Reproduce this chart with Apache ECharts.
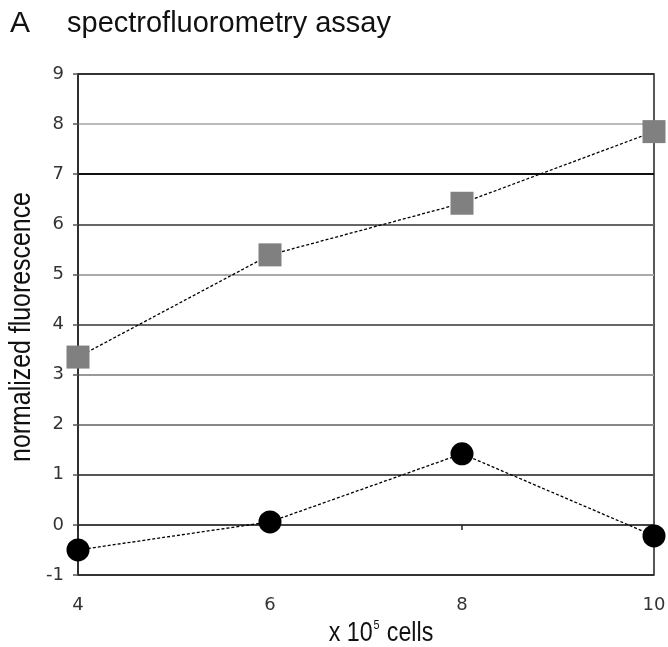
<!DOCTYPE html>
<html>
<head>
<meta charset="utf-8">
<script src="https://cdn.jsdelivr.net/npm/echarts@6/dist/echarts.min.js"></script>
<style>
html,body{margin:0;padding:0;background:#fff;}
#chart{width:668px;height:647px;}
</style>
</head>
<body>
<div id="chart"></div>
<script>
// Data
const cells = [4, 6, 8, 10];
const squareSeries = [3.35, 5.39, 6.42, 7.85];
const circleSeries = [-0.5, 0.06, 1.42, -0.22];
const yTicks = [-1, 0, 1, 2, 3, 4, 5, 6, 7, 8, 9];
const titleLetter = 'A';
const titleText = 'spectrofluorometry assay';
const yName = 'normalized fluorescence';
const xName = 'x 10{sup|5} cells';

const chart = echarts.init(document.getElementById('chart'), null, {renderer: 'canvas'});

const lineColors = ['#333', '#aaa', '#555', '#888', '#999', '#666', '#aaa', '#666', '#111', '#bbb', '#333'];
const sans = '"Liberation Sans", Arial, sans-serif';

const option = {
  backgroundColor: '#fff',
  animation: false,
  grid: {
    left: 78, right: 14, top: 74, bottom: 72,
    containLabel: false, outerBoundsMode: 'none',
    show: true, borderColor: '#222', borderWidth: 1.5
  },
  graphic: [
    {type: 'text', left: 10, top: 9, style: {text: titleLetter, font: '30px ' + sans, fill: '#111'}},
    {type: 'text', left: 67, top: 9, style: {text: titleText, font: '29px ' + sans, fill: '#111'}},
    {type: 'text', x: 22, y: 327, rotation: Math.PI / 2, scaleX: 0.83,
     style: {text: yName, font: '30px ' + sans, fill: '#111', align: 'center', verticalAlign: 'middle'}},
    {type: 'text', x: 381, y: 633, scaleX: 0.83,
     style: {text: xName, font: '28px ' + sans, fill: '#111', align: 'center', verticalAlign: 'middle',
       rich: {sup: {fontSize: 13, fontFamily: sans, fill: '#111', verticalAlign: 'top', padding: [0, 1, 14, 1]}}}}
  ],
  xAxis: {
    type: 'value', min: cells[0], max: cells[cells.length - 1], interval: 2,
    axisLine: {show: true, lineStyle: {color: '#222', width: 1.5}},
    axisTick: {show: true, length: 5, lineStyle: {color: '#222', width: 1.5}},
    axisLabel: {margin: 21, fontFamily: '"DejaVu Sans", sans-serif', fontSize: 18, color: '#333'},
    splitLine: {show: false}
  },
  yAxis: {
    type: 'value', min: yTicks[0], max: yTicks[yTicks.length - 1], interval: 1,
    axisLine: {show: true, lineStyle: {color: '#222', width: 1.5}},
    axisTick: {show: true, length: 5, lineStyle: {color: '#555', width: 1.5}},
    axisLabel: {margin: 14, fontFamily: '"DejaVu Sans", sans-serif', fontSize: 18, color: '#333'},
    splitLine: {show: true, lineStyle: {color: lineColors, width: 2}}
  },
  series: [
    {
      type: 'line',
      data: cells.map((x, i) => [x, squareSeries[i]]),
      symbol: 'rect', symbolSize: 23,
      itemStyle: {color: '#808080'},
      lineStyle: {color: '#000', width: 1.3, type: [3, 2]},
      z: 3
    },
    {
      type: 'line',
      data: cells.map((x, i) => [x, circleSeries[i]]),
      symbol: 'circle', symbolSize: 23,
      itemStyle: {color: '#000'},
      lineStyle: {color: '#000', width: 1.3, type: [3, 2]},
      z: 3
    }
  ]
};
chart.setOption(option);
</script>
</body>
</html>
